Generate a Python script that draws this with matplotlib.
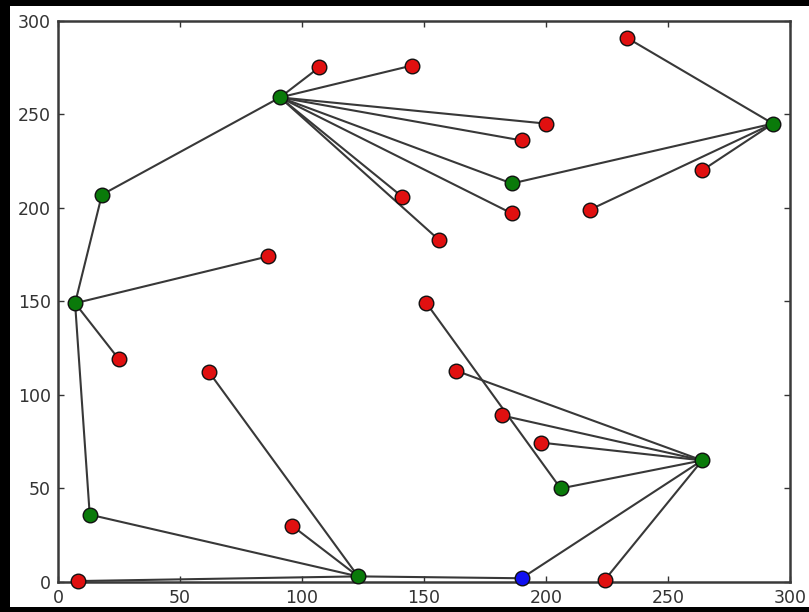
import matplotlib
matplotlib.use("Agg")
import matplotlib.pyplot as plt
from matplotlib.patches import Rectangle

# Node positions (index order: 0-8 green hubs, 9 blue start, 10-29 red points)
node_x = [91, 18, 7, 13, 123, 186, 293, 264, 206,
          190,
          8, 96, 62, 25, 86, 107, 145, 200, 190, 141,
          156, 186, 233, 264, 218, 151, 163, 182, 198, 224]
node_y = [259, 207, 149, 36, 3, 213, 245, 65, 50,
          2,
          0.5, 30, 112, 119, 174, 275, 276, 245, 236, 206,
          183, 197, 291, 220, 199, 149, 113, 89, 74.5, 1]
node_kind = ["green"] * 9 + ["blue"] + ["red"] * 20

# Connections between nodes (index pairs)
edges = [(0, 1), (1, 2), (2, 3), (2, 14), (2, 13), (3, 4), (4, 11), (4, 12),
         (4, 10), (4, 9), (9, 7), (7, 29), (7, 8), (8, 25), (7, 28), (7, 27),
         (7, 26), (0, 15), (0, 16), (0, 17), (0, 18), (0, 19), (0, 20),
         (0, 21), (0, 5), (5, 6), (6, 22), (6, 23), (6, 24)]

x_ticks = [0, 50, 100, 150, 200, 250, 300]
y_ticks = [0, 50, 100, 150, 200, 250, 300]

colors = {"green": "#0a7a0a", "red": "#e01010", "blue": "#1010f0"}

W, H = 809, 612
fig = plt.figure(figsize=(W / 100, H / 100), dpi=100)
fig.patch.set_facecolor("black")
fig.add_artist(Rectangle((10 / W, 5 / H), 1 - 10 / W, 1 - 11 / H,
                         transform=fig.transFigure, facecolor="white",
                         edgecolor="none", zorder=-10))

ax = fig.add_axes([58 / W, (H - 582) / H, (790 - 58) / W, (582 - 20.7) / H])
ax.set_facecolor("white")

for a, b in edges:
    ax.plot([node_x[a], node_x[b]], [node_y[a], node_y[b]],
            color="#383838", lw=1.5, zorder=2, solid_capstyle="round")

for kind in ["red", "green", "blue"]:
    xs = [x for x, k in zip(node_x, node_kind) if k == kind]
    ys = [y for y, k in zip(node_y, node_kind) if k == kind]
    ax.plot(xs, ys, linestyle="none", marker="o", markersize=10.5,
            markerfacecolor=colors[kind], markeredgecolor="#111111",
            markeredgewidth=1.0, zorder=3, clip_on=False)

ax.set_xlim(0, 300)
ax.set_ylim(0, 300)
ax.set_xticks(x_ticks)
ax.set_yticks(y_ticks)
ax.tick_params(direction="in", length=4, width=1, top=True, right=True,
               labelsize=12.5, colors="#333333", pad=5)
for s in ax.spines.values():
    s.set_linewidth(1.8)
    s.set_color("#3a3a3a")

fig.savefig("out.png", dpi=100, facecolor=fig.get_facecolor())
